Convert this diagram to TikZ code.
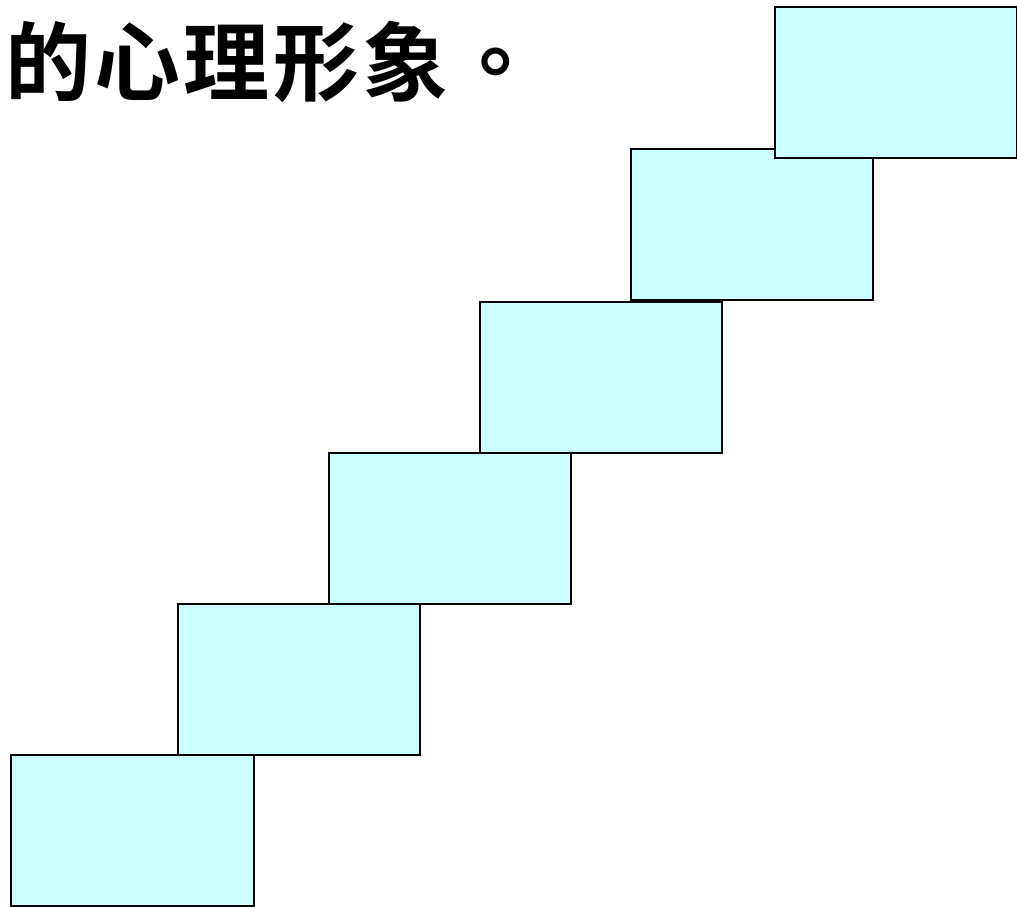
\documentclass[tikz,border=0pt]{standalone}
\usepackage{fontspec}
\newfontfamily\cjk{Noto Sans CJK TC}[BoldFont={Noto Sans CJK TC Bold}, LetterSpace=4]
\definecolor{boxfill}{HTML}{CCFFFF}
\tikzset{stairbox/.style={draw=black, fill=boxfill, line width=1.5pt}}
\begin{document}
\begin{tikzpicture}[x=1pt,y=-1pt]
\useasboundingbox (0,0) rectangle (1017,907);
\node[anchor=base west, inner sep=0pt, font=\cjk\bfseries\fontsize{86}{86}\selectfont] (title) at (5,95) {的心理形象。};
\draw[stairbox] (11,755) rectangle (254,906);
\draw[stairbox] (178,604) rectangle (420,755);
\draw[stairbox] (329,453) rectangle (571,604);
\draw[stairbox] (480,302) rectangle (722,453);
\draw[stairbox] (631,149) rectangle (873,300);
\draw[stairbox] (775,7) rectangle (1016.5,158);
\end{tikzpicture}
\end{document}
